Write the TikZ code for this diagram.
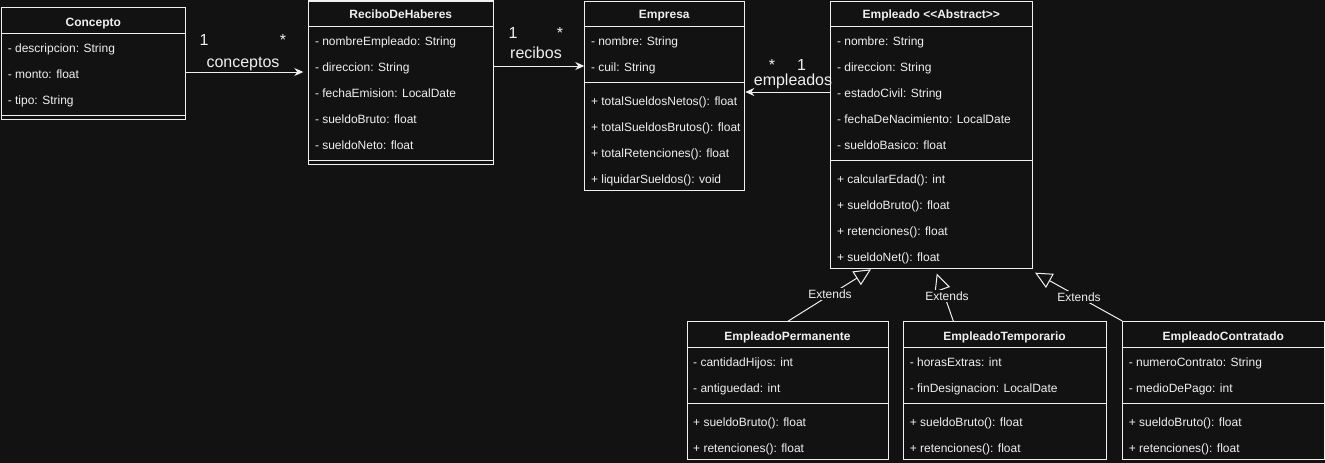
\documentclass[tikz,border=0pt]{standalone}
\usepackage{fontspec}
\setmainfont{Liberation Sans}
\usetikzlibrary{arrows.meta}
\definecolor{bg}{HTML}{121212}
\definecolor{fg}{HTML}{F0F0F0}
\begin{document}
\begin{tikzpicture}[x=1pt,y=-1pt,line width=1pt,
  box/.style={draw=fg,fill=bg,rectangle,inner sep=0pt,anchor=north west},
  row/.style={anchor=base west,inner sep=0pt,text=fg,font=\fontsize{12}{14}\selectfont},
  ttl/.style={anchor=base,inner sep=0pt,text=fg,font=\fontsize{12}{14}\selectfont\bfseries},
  elabel/.style={anchor=base,inner sep=0pt,text=fg,font=\fontsize{16}{19}\selectfont},
  xlabel/.style={anchor=base,inner sep=1.5pt,fill=bg,text=fg,font=\fontsize{12}{14}\selectfont},
  sepline/.style={draw=fg},
  assoc/.style={draw=fg,-{Stealth[length=9pt,width=8pt,inset=3pt]}},
  gen/.style={draw=fg,-{Triangle[open,length=17pt,width=16pt]}},
]
\fill[bg] (0,0) rectangle (1325,463);
\useasboundingbox (0,0) rectangle (1325,463);

% ---------- Concepto ----------
\node[box,minimum width=184pt,minimum height=111.7pt] (concepto) at (1.3,7.3) {};
\draw[sepline] (concepto.west |- 0,33.3) -- (concepto.east |- 0,33.3);
\draw[sepline] (concepto.west |- 0,115) -- (concepto.east |- 0,115);
\node[ttl] (conceptoT) at (93.3,26.3) {Concepto};
\node[row] (conc1) at (7.3,52) {- descripcion: String};
\node[row] (conc2) at (7.3,78) {- monto: float};
\node[row] (conc3) at (7.3,104) {- tipo: String};

% ---------- ReciboDeHaberes ----------
\node[box,minimum width=185pt,minimum height=163.5pt] (recibo) at (308.3,0.5) {};
\draw[sepline] (recibo.west |- 0,26) -- (recibo.east |- 0,26);
\draw[sepline] (recibo.west |- 0,160) -- (recibo.east |- 0,160);
\node[ttl] (reciboT) at (400.8,19) {ReciboDeHaberes};
\node[row] (rec1) at (314.5,45) {- nombreEmpleado: String};
\node[row] (rec2) at (314.5,71) {- direccion: String};
\node[row] (rec3) at (314.5,97) {- fechaEmision: LocalDate};
\node[row] (rec4) at (314.5,123) {- sueldoBruto: float};
\node[row] (rec5) at (314.5,149) {- sueldoNeto: float};

% ---------- Empresa ----------
\node[box,minimum width=160pt,minimum height=189.5pt] (empresa) at (584.3,0.5) {};
\draw[sepline] (empresa.west |- 0,26) -- (empresa.east |- 0,26);
\draw[sepline] (empresa.west |- 0,82) -- (empresa.east |- 0,82);
\node[ttl] (empresaT) at (664.3,19) {Empresa};
\node[row] (emp1) at (590.5,45) {- nombre: String};
\node[row] (emp2) at (590.5,71) {- cuil: String};
\node[row] (emp3) at (590.5,105) {+ totalSueldosNetos(): float};
\node[row] (emp4) at (590.5,131) {+ totalSueldosBrutos(): float};
\node[row] (emp5) at (590.5,157) {+ totalRetenciones(): float};
\node[row] (emp6) at (590.5,183) {+ liquidarSueldos(): void};

% ---------- Empleado ----------
\node[box,minimum width=202pt,minimum height=267.8pt] (empleado) at (830.3,0.5) {};
\draw[sepline] (empleado.west |- 0,26) -- (empleado.east |- 0,26);
\draw[sepline] (empleado.west |- 0,160) -- (empleado.east |- 0,160);
\node[ttl] (empleadoT) at (931.3,19) {Empleado <\kern0pt<Abstract>\kern0pt>};
\node[row] (el1) at (836.5,45) {- nombre: String};
\node[row] (el2) at (836.5,71) {- direccion: String};
\node[row] (el3) at (836.5,97) {- estadoCivil: String};
\node[row] (el4) at (836.5,123) {- fechaDeNacimiento: LocalDate};
\node[row] (el5) at (836.5,149) {- sueldoBasico: float};
\node[row] (el6) at (836.5,183) {+ calcularEdad(): int};
\node[row] (el7) at (836.5,209) {+ sueldoBruto(): float};
\node[row] (el8) at (836.5,235) {+ retenciones(): float};
\node[row] (el9) at (836.5,261) {+ sueldoNet(): float};

% ---------- EmpleadoPermanente ----------
\node[box,minimum width=201.6pt,minimum height=138.3pt] (perm) at (686.7,321) {};
\draw[sepline] (perm.west |- 0,347) -- (perm.east |- 0,347);
\draw[sepline] (perm.west |- 0,403.3) -- (perm.east |- 0,403.3);
\node[ttl] (permT) at (787.5,340) {EmpleadoPermanente};
\node[row] (pe1) at (692.7,366) {- cantidadHijos: int};
\node[row] (pe2) at (692.7,392) {- antiguedad: int};
\node[row] (pe3) at (692.7,426) {+ sueldoBruto(): float};
\node[row] (pe4) at (692.7,452) {+ retenciones(): float};

% ---------- EmpleadoTemporario ----------
\node[box,minimum width=202.4pt,minimum height=138.3pt] (temp) at (903.3,321) {};
\draw[sepline] (temp.west |- 0,347) -- (temp.east |- 0,347);
\draw[sepline] (temp.west |- 0,403.3) -- (temp.east |- 0,403.3);
\node[ttl] (tempT) at (1004.5,340) {EmpleadoTemporario};
\node[row] (te1) at (909.3,366) {- horasExtras: int};
\node[row] (te2) at (909.3,392) {- finDesignacion: LocalDate};
\node[row] (te3) at (909.3,426) {+ sueldoBruto(): float};
\node[row] (te4) at (909.3,452) {+ retenciones(): float};

% ---------- EmpleadoContratado ----------
\node[box,minimum width=202pt,minimum height=138.3pt] (contr) at (1122.3,321) {};
\draw[sepline] (contr.west |- 0,347) -- (contr.east |- 0,347);
\draw[sepline] (contr.west |- 0,403.3) -- (contr.east |- 0,403.3);
\node[ttl] (contrT) at (1223.3,340) {EmpleadoContratado};
\node[row] (co1) at (1128.3,366) {- numeroContrato: String};
\node[row] (co2) at (1128.3,392) {- medioDePago: int};
\node[row] (co3) at (1128.3,426) {+ sueldoBruto(): float};
\node[row] (co4) at (1128.3,452) {+ retenciones(): float};

% ---------- associations ----------
\draw[assoc,shorten >=5pt] (concepto.east |- 0,72) -- (recibo.west |- 0,72);
\node[elabel] (a1s) at (204,45) {1};
\node[elabel] (a1t) at (283,45) {*};
\node[elabel] (a1l) at (243,67) {conceptos};

\draw[assoc] (recibo.east |- 0,66) -- (empresa.west |- 0,66);
\node[elabel] (a2s) at (513,38) {1};
\node[elabel] (a2t) at (560,38) {*};
\node[elabel] (a2l) at (536,58) {recibos};

\draw[assoc] (empleado.west |- 0,92) -- (empresa.east |- 0,92);
\node[elabel] (a3t) at (772,70) {*};
\node[elabel] (a3s) at (801.5,70) {1};
\node[elabel] (a3l) at (793,85) {empleados};

% ---------- generalisations ----------
\draw[gen] (788.3,0 |- perm.north) -- (871,0 |- empleado.south);
\draw[gen,shorten >=4.6pt] (953.3,0 |- temp.north) -- (935.2,0 |- empleado.south);
\draw[gen,shorten >=6.9pt] (1122.3,0 |- contr.north) -- (1029,0 |- empleado.south);
\node[xlabel] (g1) at (830,298) {Extends};
\node[xlabel] (g2) at (947,300) {Extends};
\node[xlabel] (g3) at (1079,301.5) {Extends};
\end{tikzpicture}
\end{document}
